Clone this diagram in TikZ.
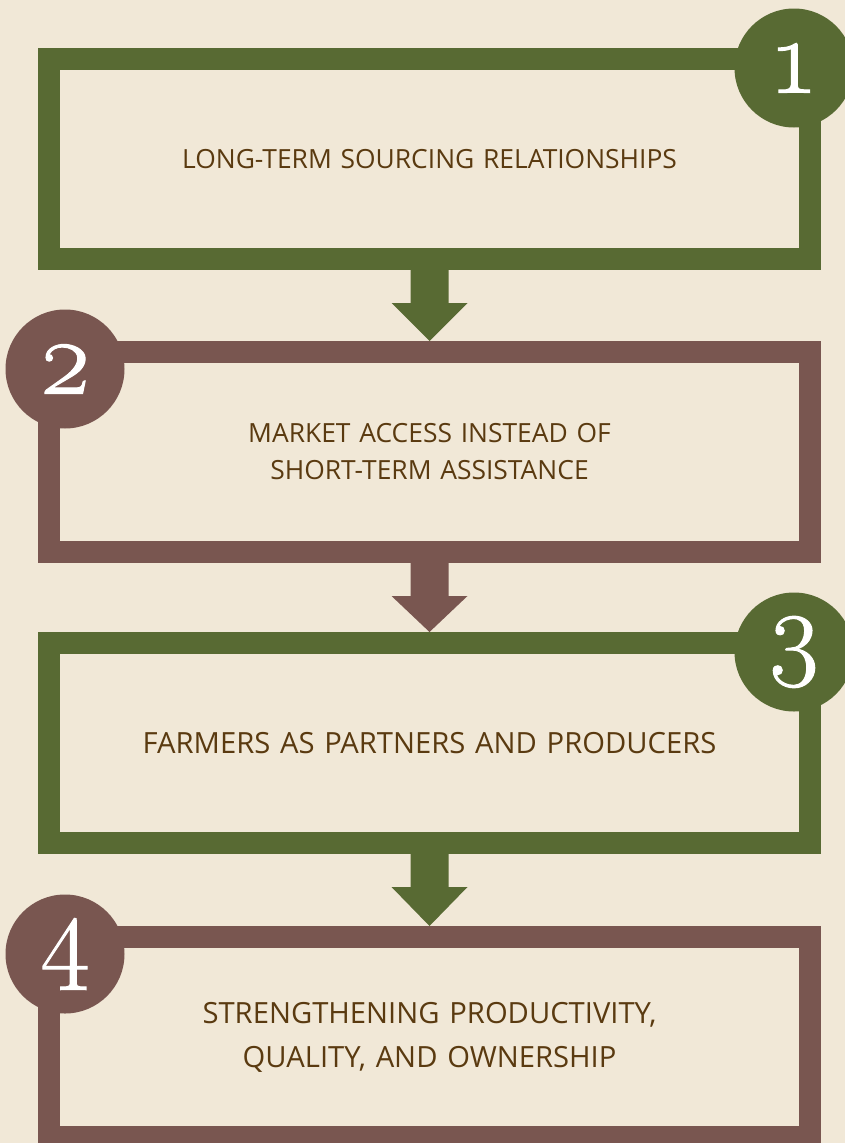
\documentclass[tikz,border=0pt]{standalone}
\usepackage{fontspec}
\setmainfont{Open Sans}
\newfontfamily\numfont{Latin Modern Roman}[Numbers=OldStyle,FakeBold=1]
\usetikzlibrary{positioning,shapes,arrows,fit,calc}

\definecolor{bgcream}{HTML}{F1E8D7}
\definecolor{leafgreen}{HTML}{586A33}
\definecolor{clay}{HTML}{795650}
\definecolor{inkbrown}{HTML}{5A3A10}

\tikzset{
    stagebox/.style={rectangle,draw=#1,line width=22pt,minimum width=761pt,minimum height=200pt,
        text width=600pt,align=center,text=inkbrown,font=\fontsize{26.4}{37}\selectfont},
    bigtext/.style={font=\fontsize{29.2}{44}\selectfont},
    badge/.style={circle,fill=#1,minimum size=119pt,inner sep=0pt,text=white,
        font=\numfont\fontsize{106}{106}\selectfont},
}

\begin{document}
\begin{tikzpicture}[x=1pt,y=-1pt]
            \fill[bgcream] (0,0) rectangle (845,1143);
            \useasboundingbox (0,0) rectangle (845,1143);

            % stages
            \node[stagebox=leafgreen] (stage1) at (429.5,159) {LONG-TERM SOURCING RELATIONSHIPS};
            \node[stagebox=clay,below=71pt of stage1] (stage2) {MARKET ACCESS INSTEAD OF\\SHORT-TERM ASSISTANCE};
            \node[stagebox=leafgreen,bigtext,below=69pt of stage2] (stage3) {FARMERS AS PARTNERS AND PRODUCERS};
            \node[stagebox=clay,bigtext,below=72pt of stage3] (stage4) {STRENGTHENING PRODUCTIVITY,\\QUALITY, AND OWNERSHIP};

            % arrows
            \foreach \from/\to/\col in {stage1/stage2/leafgreen,stage2/stage3/clay,stage3/stage4/leafgreen}{
                \fill[\col] ($(\from.south)+(-19,0)$) -- ($(\from.south)+(19,0)$) -- ($(\from.south)+(19,33)$)
                    -- ($(\from.south)+(38,33)$) -- (\to.north) -- ($(\from.south)+(-38,33)$)
                    -- ($(\from.south)+(-19,33)$) -- cycle;
            }

            % numbers
            \node[badge=leafgreen] (num1) at ($(stage1.north east)+(-27,20)$) {1};
            \node[badge=clay] (num2) at ($(stage2.north west)+(27,28)$) {2};
            \node[badge=leafgreen] (num3) at ($(stage3.north east)+(-27,20)$) {3};
            \node[badge=clay] (num4) at ($(stage4.north west)+(27,28)$) {4};
        \end{tikzpicture}
\end{document}
